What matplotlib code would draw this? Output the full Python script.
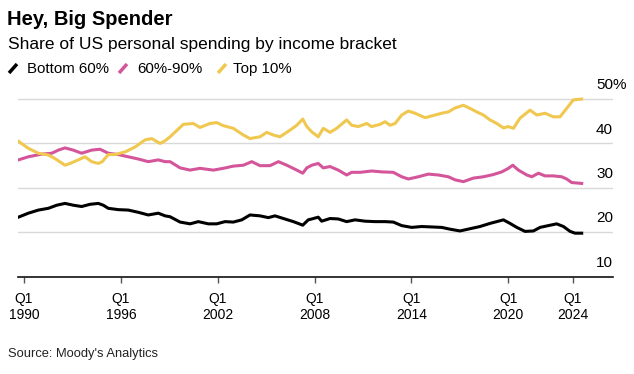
import matplotlib
matplotlib.use("Agg")
import matplotlib.pyplot as plt
from matplotlib.lines import Line2D

plt.rcParams["font.family"] = ["Liberation Sans", "DejaVu Sans"]

# --- data (share of US personal spending, %) ---
top10_years = [1989.65, 1990.27, 1990.89, 1991.51, 1991.92, 1992.54, 1992.85, 1993.36, 1993.78,
               1994.19, 1994.60, 1994.85, 1995.22, 1995.64, 1996.26, 1996.88, 1997.50, 1997.91,
               1998.43, 1998.74, 1999.05, 1999.87, 2000.49, 2000.90, 2001.52, 2001.94, 2002.35,
               2002.97, 2003.59, 2004.00, 2004.62, 2005.04, 2005.45, 2005.86, 2006.48, 2006.90,
               2007.27, 2007.52, 2007.83, 2008.23, 2008.54, 2008.96, 2009.37, 2009.99, 2010.30,
               2010.71, 2011.23, 2011.54, 2012.06, 2012.37, 2012.68, 2012.99, 2013.40, 2013.81,
               2014.23, 2014.85, 2015.26, 2015.88, 2016.29, 2016.71, 2017.22, 2017.63, 2018.05,
               2018.46, 2018.87, 2019.29, 2019.70, 2020.01, 2020.32, 2020.73, 2021.35, 2021.77,
               2022.28, 2022.79, 2023.21, 2023.62, 2024.03, 2024.55]
top10 = [40.5, 38.9, 37.8, 37.4, 36.6, 35.1, 35.5, 36.3, 37.0, 35.9, 35.5, 35.9, 37.5, 37.5,
         38.1, 39.2, 40.8, 41.1, 40.0, 40.6, 41.5, 44.3, 44.5, 43.6, 44.5, 44.7, 44.0, 43.4,
         41.9, 41.1, 41.5, 42.5, 41.9, 41.5, 43.0, 44.1, 45.5, 43.8, 42.6, 41.5, 43.4, 42.5,
         43.4, 45.3, 44.1, 43.8, 44.5, 43.8, 44.3, 44.9, 44.1, 44.5, 46.4, 47.3, 46.8, 45.8,
         46.2, 46.8, 47.1, 48.0, 48.6, 47.9, 47.1, 46.4, 45.3, 44.5, 43.5, 43.8, 43.4, 45.7,
         47.5, 46.4, 46.8, 46.0, 46.0, 47.9, 49.8, 50.0]

mid_years = [1989.65, 1990.27, 1991.10, 1991.72, 1992.13, 1992.54, 1993.05, 1993.57, 1994.19,
             1994.71, 1995.22, 1995.84, 1996.46, 1997.08, 1997.70, 1998.32, 1998.74, 1999.05,
             1999.67, 2000.29, 2000.90, 2001.73, 2002.35, 2002.97, 2003.59, 2004.11, 2004.62,
             2005.24, 2005.76, 2006.28, 2006.90, 2007.27, 2007.52, 2007.83, 2008.23, 2008.54,
             2008.96, 2009.47, 2009.99, 2010.30, 2010.82, 2011.54, 2012.16, 2012.88, 2013.40,
             2013.81, 2014.43, 2015.05, 2015.67, 2016.29, 2016.71, 2017.22, 2017.84, 2018.46,
             2019.08, 2019.60, 2020.01, 2020.28, 2020.63, 2021.15, 2021.46, 2021.87, 2022.28,
             2022.79, 2023.31, 2023.62, 2023.93, 2024.55]
mid = [36.3, 37.0, 37.6, 37.8, 38.5, 39.0, 38.5, 37.8, 38.5, 38.7, 37.8, 37.5, 37.0, 36.5,
       35.9, 36.3, 35.9, 35.9, 34.5, 34.0, 34.4, 34.0, 34.4, 34.9, 35.1, 35.9, 35.0, 35.0,
       35.9, 35.1, 34.0, 33.3, 34.5, 35.1, 35.5, 34.5, 34.8, 34.0, 32.9, 33.5, 33.5, 33.8,
       33.6, 33.5, 32.5, 32.0, 32.5, 33.1, 32.9, 32.5, 31.8, 31.4, 32.2, 32.5, 33.0, 33.6,
       34.4, 35.1, 34.0, 32.9, 32.5, 33.3, 32.7, 32.7, 32.5, 32.0, 31.2, 31.0]

bottom_years = [1989.65, 1990.27, 1990.89, 1991.51, 1992.03, 1992.54, 1993.05, 1993.57, 1994.09,
                1994.60, 1994.91, 1995.22, 1995.84, 1996.46, 1997.08, 1997.70, 1998.32, 1998.74,
                1999.05, 1999.67, 2000.29, 2000.80, 2001.42, 2001.94, 2002.45, 2002.97, 2003.49,
                2004.00, 2004.62, 2005.14, 2005.55, 2006.07, 2006.69, 2007.27, 2007.61, 2007.83,
                2008.23, 2008.44, 2008.96, 2009.47, 2009.99, 2010.51, 2011.13, 2011.75, 2012.37,
                2012.88, 2013.40, 2014.02, 2014.64, 2015.26, 2015.88, 2016.39, 2017.01, 2017.63,
                2018.25, 2018.87, 2019.29, 2019.70, 2020.11, 2020.53, 2021.04, 2021.56, 2021.97,
                2022.48, 2023.00, 2023.42, 2023.83, 2024.14, 2024.55]
bottom = [23.4, 24.3, 25.0, 25.4, 26.1, 26.5, 26.1, 25.8, 26.3, 26.5, 26.1, 25.4, 25.1, 25.0,
          24.5, 23.9, 24.3, 23.7, 23.5, 22.3, 21.9, 22.4, 21.9, 21.9, 22.4, 22.3, 22.8, 23.9,
          23.7, 23.3, 23.7, 23.1, 22.4, 21.6, 22.8, 23.0, 23.4, 22.5, 23.1, 23.0, 22.4, 22.8,
          22.5, 22.4, 22.4, 22.3, 21.5, 21.1, 21.3, 21.2, 21.1, 20.7, 20.3, 20.8, 21.3, 22.0,
          22.4, 22.8, 22.0, 21.1, 20.2, 20.3, 21.1, 21.5, 21.9, 21.3, 20.2, 19.8, 19.8]

tick_years = [1990, 1996, 2002, 2008, 2014, 2020, 2024]
tick_labels = ["Q1\n" + str(y) for y in tick_years]
y_ticks = [10, 20, 30, 40, 50]
y_labels = ["10", "20", "30", "40", "50%"]

series_names = ["Bottom 60%", "60%-90%", "Top 10%"]
colors = ["#000000", "#d4559a", "#f0c850"]

W, H = 634, 374
fig = plt.figure(figsize=(W / 100, H / 100), dpi=100)
ax = fig.add_axes([18.3 / W, 1 - 276.7 / H, (613 - 18.3) / W, (276.7 - 94.6) / H])

for yv in y_ticks[1:]:
    ax.axhline(yv, color="#d9d9d9", lw=1.0, zorder=1)

ax.plot(bottom_years, bottom, color=colors[0], lw=2.2, zorder=3, solid_joinstyle="round")
ax.plot(mid_years, mid, color=colors[1], lw=2.2, zorder=3, solid_joinstyle="round")
ax.plot(top10_years, top10, color=colors[2], lw=2.2, zorder=3, solid_joinstyle="round")

ax.set_xlim(1989.647, 2026.49)
ax.set_ylim(10, 51)

for s in ["top", "right", "left"]:
    ax.spines[s].set_visible(False)
ax.spines["bottom"].set_linewidth(1.2)
ax.spines["bottom"].set_color("#111111")

ax.set_yticks([])
ax.set_xticks(tick_years)
ax.set_xticklabels(tick_labels, fontsize=10, linespacing=1.2)
ax.tick_params(axis="x", length=4, width=1, color="#555555", pad=7)

xa = (596 - 18.3) / (613 - 18.3)
for yv, lab in zip(y_ticks, y_labels):
    ax.annotate(lab, xy=(xa, yv), xycoords=("axes fraction", "data"),
                xytext=(0, 10), textcoords="offset points",
                ha="left", va="center", fontsize=11, annotation_clip=False)

# titles
fig.text(7 / W, 1 - 25 / H, "Hey, Big Spender", fontsize=14.5, fontweight="bold",
         ha="left", va="baseline")
fig.text(8 / W, 1 - 49.5 / H, "Share of US personal spending by income bracket",
         fontsize=12.5, ha="left", va="baseline")

# legend built by hand: short slanted strokes + labels
marks = [(9, 27), (119, 137), (218, 233)]
for (mx, tx), name, c in zip(marks, series_names, colors):
    fig.add_artist(Line2D([mx / W, (mx + 8) / W], [1 - 73 / H, 1 - 64 / H],
                          color=c, lw=2.5, solid_capstyle="butt"))
    fig.text(tx / W, 1 - 73 / H, name, fontsize=10.8, ha="left", va="baseline")

fig.text(8 / W, 1 - 354 / H, "Source: Moody's Analytics", fontsize=9.3,
         ha="left", va="center", color="#222222")

fig.savefig("out.png", dpi=100)
